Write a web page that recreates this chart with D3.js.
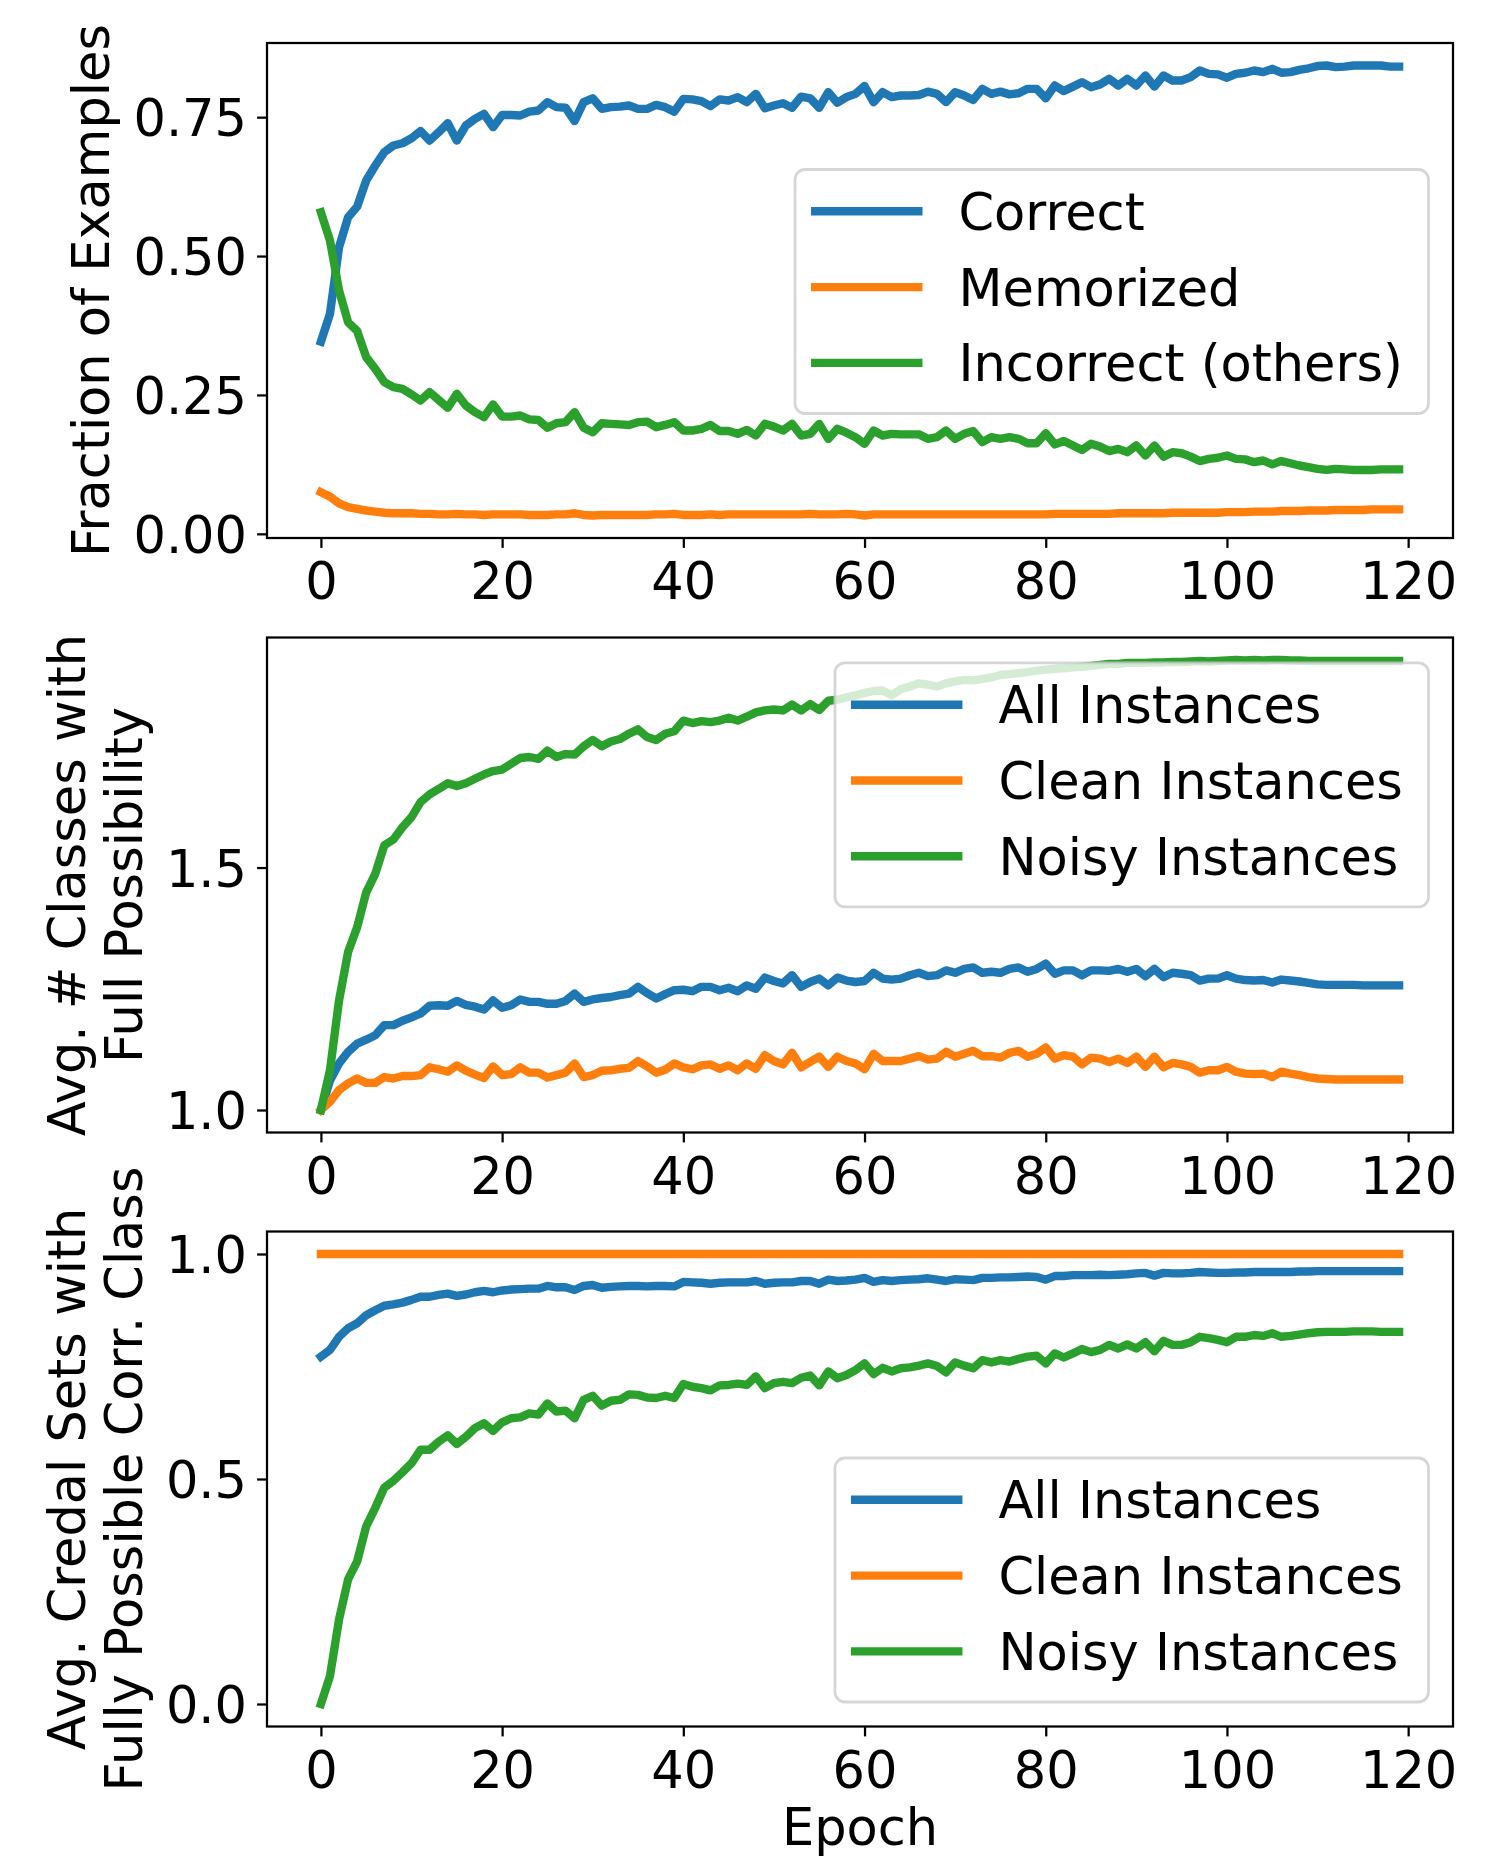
<!DOCTYPE html>
<html><head><meta charset="utf-8">
<script src="https://cdn.jsdelivr.net/npm/d3@7/dist/d3.min.js"></script>
<style>
body{margin:0;background:#fff}
svg{display:block}
text{font-family:"DejaVu Sans",sans-serif;fill:#000}
</style>
</head><body>
<svg id="chart" width="1508" height="1858"></svg>
<script>
// ---------------- DATA ----------------
const epochs = d3.range(0, 120);
const xTicks = [0, 20, 40, 60, 80, 100, 120];

// Panel 1: Fraction of Examples
const correct = [
0.346,0.396,0.516,0.570,0.589,0.636,0.663,0.687,0.699,0.703,
0.712,0.725,0.708,0.723,0.739,0.708,0.735,0.747,0.756,0.732,
0.754,0.754,0.753,0.760,0.762,0.777,0.768,0.767,0.743,0.777,
0.784,0.765,0.768,0.769,0.771,0.765,0.765,0.772,0.768,0.760,
0.783,0.782,0.779,0.770,0.782,0.780,0.786,0.777,0.792,0.766,
0.771,0.775,0.767,0.787,0.784,0.767,0.795,0.776,0.786,0.792,
0.806,0.777,0.795,0.786,0.789,0.789,0.790,0.796,0.792,0.777,
0.795,0.789,0.781,0.801,0.792,0.796,0.791,0.793,0.801,0.801,
0.784,0.807,0.797,0.805,0.813,0.804,0.809,0.819,0.807,0.819,
0.807,0.825,0.805,0.825,0.816,0.816,0.822,0.834,0.828,0.827,
0.821,0.828,0.830,0.834,0.831,0.837,0.830,0.831,0.835,0.838,
0.842,0.843,0.840,0.841,0.843,0.843,0.843,0.843,0.841,0.841];
const memorized = [
0.075,0.067,0.055,0.048,0.045,0.042,0.040,0.038,0.037,0.037,
0.037,0.036,0.036,0.035,0.035,0.036,0.035,0.035,0.034,0.035,
0.035,0.035,0.035,0.034,0.034,0.034,0.035,0.035,0.037,0.034,
0.033,0.034,0.034,0.034,0.034,0.034,0.034,0.035,0.035,0.036,
0.034,0.034,0.034,0.035,0.034,0.035,0.035,0.035,0.035,0.035,
0.035,0.035,0.035,0.035,0.036,0.035,0.035,0.035,0.036,0.035,
0.033,0.035,0.035,0.035,0.035,0.035,0.035,0.035,0.035,0.035,
0.035,0.035,0.035,0.035,0.035,0.035,0.035,0.035,0.035,0.035,
0.035,0.036,0.036,0.036,0.036,0.036,0.036,0.036,0.037,0.037,
0.037,0.037,0.037,0.037,0.038,0.038,0.038,0.038,0.038,0.038,
0.039,0.039,0.039,0.040,0.040,0.040,0.041,0.041,0.041,0.042,
0.042,0.042,0.043,0.043,0.043,0.043,0.044,0.044,0.044,0.044];
const incorrect = [
0.579,0.528,0.438,0.381,0.365,0.318,0.297,0.273,0.264,0.261,
0.251,0.240,0.255,0.241,0.227,0.252,0.231,0.219,0.210,0.233,
0.211,0.211,0.213,0.206,0.205,0.191,0.199,0.201,0.219,0.191,
0.183,0.199,0.198,0.197,0.196,0.201,0.202,0.192,0.196,0.201,
0.186,0.186,0.189,0.196,0.185,0.185,0.180,0.187,0.177,0.198,
0.193,0.186,0.198,0.177,0.180,0.198,0.171,0.189,0.182,0.174,
0.162,0.186,0.177,0.180,0.179,0.179,0.179,0.171,0.174,0.186,
0.171,0.180,0.185,0.165,0.174,0.171,0.174,0.171,0.163,0.163,
0.181,0.161,0.167,0.159,0.151,0.162,0.157,0.149,0.153,0.147,
0.159,0.141,0.159,0.139,0.147,0.145,0.139,0.131,0.135,0.137,
0.141,0.135,0.134,0.129,0.132,0.125,0.131,0.127,0.123,0.120,
0.117,0.115,0.117,0.116,0.115,0.115,0.115,0.116,0.116,0.116];

// Panel 2: Avg. # classes with full possibility
const fullPossAll = [
1.000,1.061,1.096,1.120,1.137,1.145,1.154,1.175,1.175,1.184,
1.191,1.199,1.215,1.216,1.215,1.225,1.217,1.213,1.207,1.226,
1.211,1.216,1.228,1.223,1.223,1.219,1.219,1.225,1.240,1.223,
1.228,1.231,1.233,1.237,1.240,1.254,1.241,1.230,1.239,1.247,
1.248,1.245,1.254,1.254,1.247,1.252,1.245,1.257,1.250,1.273,
1.266,1.261,1.278,1.254,1.264,1.271,1.257,1.273,1.267,1.264,
1.266,1.283,1.271,1.269,1.271,1.278,1.283,1.276,1.278,1.288,
1.283,1.291,1.294,1.283,1.285,1.283,1.291,1.294,1.285,1.291,
1.302,1.281,1.288,1.288,1.278,1.288,1.288,1.287,1.291,1.285,
1.291,1.276,1.291,1.274,1.283,1.281,1.278,1.267,1.271,1.271,
1.278,1.271,1.268,1.267,1.268,1.263,1.269,1.267,1.265,1.262,
1.259,1.258,1.258,1.258,1.258,1.257,1.257,1.257,1.257,1.257];
const fullPossClean = [
1.000,1.017,1.041,1.055,1.065,1.056,1.056,1.068,1.065,1.070,
1.070,1.072,1.088,1.084,1.079,1.092,1.081,1.073,1.066,1.090,
1.072,1.074,1.088,1.077,1.077,1.067,1.072,1.077,1.096,1.068,
1.072,1.081,1.082,1.085,1.087,1.101,1.090,1.077,1.083,1.096,
1.088,1.084,1.092,1.094,1.085,1.092,1.082,1.096,1.085,1.113,
1.101,1.094,1.118,1.088,1.099,1.110,1.089,1.110,1.101,1.096,
1.084,1.116,1.101,1.101,1.101,1.106,1.111,1.104,1.106,1.120,
1.110,1.116,1.122,1.111,1.111,1.108,1.118,1.122,1.110,1.116,
1.129,1.106,1.113,1.110,1.094,1.108,1.106,1.099,1.106,1.097,
1.110,1.089,1.110,1.088,1.097,1.094,1.089,1.077,1.082,1.082,
1.089,1.079,1.075,1.074,1.075,1.068,1.079,1.075,1.072,1.068,
1.065,1.064,1.063,1.063,1.063,1.063,1.063,1.063,1.063,1.063];
const fullPossNoisy = [
1.000,1.082,1.226,1.326,1.377,1.449,1.487,1.546,1.558,1.583,
1.604,1.635,1.651,1.662,1.674,1.668,1.674,1.683,1.692,1.699,
1.702,1.714,1.726,1.728,1.724,1.741,1.728,1.734,1.733,1.750,
1.763,1.750,1.760,1.765,1.776,1.785,1.769,1.763,1.776,1.781,
1.803,1.798,1.802,1.800,1.803,1.809,1.803,1.811,1.820,1.824,
1.826,1.824,1.836,1.824,1.837,1.825,1.844,1.846,1.851,1.855,
1.860,1.864,1.865,1.855,1.868,1.873,1.880,1.877,1.873,1.880,
1.884,1.887,1.886,1.889,1.892,1.897,1.899,1.901,1.903,1.906,
1.908,1.910,1.911,1.913,1.914,1.916,1.918,1.920,1.920,1.922,
1.922,1.922,1.923,1.923,1.924,1.924,1.925,1.926,1.925,1.926,
1.927,1.928,1.927,1.928,1.927,1.928,1.928,1.927,1.927,1.926,
1.926,1.926,1.926,1.926,1.926,1.926,1.926,1.926,1.926,1.926];

// Panel 3: Avg. credal sets with fully possible correct class
const credalAll = [
0.772,0.787,0.816,0.835,0.846,0.864,0.875,0.885,0.888,0.892,
0.898,0.905,0.905,0.909,0.912,0.907,0.910,0.915,0.918,0.915,
0.919,0.921,0.922,0.923,0.923,0.929,0.926,0.926,0.920,0.929,
0.931,0.925,0.927,0.928,0.929,0.929,0.928,0.929,0.929,0.928,
0.938,0.937,0.936,0.934,0.936,0.937,0.937,0.937,0.940,0.934,
0.936,0.937,0.937,0.940,0.940,0.934,0.943,0.940,0.941,0.943,
0.947,0.938,0.942,0.940,0.942,0.943,0.944,0.946,0.943,0.940,
0.944,0.943,0.942,0.947,0.947,0.948,0.948,0.949,0.950,0.949,
0.943,0.951,0.951,0.953,0.953,0.953,0.954,0.953,0.954,0.955,
0.957,0.958,0.952,0.958,0.957,0.957,0.958,0.960,0.959,0.958,
0.958,0.959,0.959,0.960,0.960,0.960,0.960,0.960,0.961,0.961,
0.962,0.962,0.962,0.962,0.962,0.962,0.962,0.962,0.962,0.962];
const credalClean = [
1,1,1,1,1,1,1,1,1,1, 1,1,1,1,1,1,1,1,1,1,
1,1,1,1,1,1,1,1,1,1, 1,1,1,1,1,1,1,1,1,1,
1,1,1,1,1,1,1,1,1,1, 1,1,1,1,1,1,1,1,1,1,
1,1,1,1,1,1,1,1,1,1, 1,1,1,1,1,1,1,1,1,1,
1,1,1,1,1,1,1,1,1,1, 1,1,1,1,1,1,1,1,1,1,
1,1,1,1,1,1,1,1,1,1, 1,1,1,1,1,1,1,1,1,1];
const credalNoisy = [
0.000,0.062,0.188,0.277,0.317,0.395,0.436,0.481,0.496,0.515,
0.535,0.565,0.565,0.583,0.597,0.578,0.594,0.613,0.624,0.607,
0.626,0.635,0.637,0.646,0.643,0.668,0.650,0.652,0.635,0.676,
0.685,0.663,0.674,0.676,0.688,0.687,0.681,0.680,0.685,0.680,
0.711,0.705,0.702,0.697,0.708,0.709,0.712,0.709,0.728,0.702,
0.713,0.716,0.713,0.725,0.730,0.708,0.739,0.724,0.731,0.742,
0.757,0.733,0.747,0.739,0.746,0.748,0.752,0.757,0.751,0.737,
0.759,0.752,0.746,0.764,0.759,0.764,0.761,0.767,0.772,0.774,
0.757,0.779,0.770,0.779,0.789,0.782,0.787,0.798,0.790,0.799,
0.790,0.804,0.784,0.807,0.798,0.798,0.804,0.816,0.813,0.809,
0.804,0.816,0.816,0.820,0.818,0.824,0.816,0.818,0.821,0.824,
0.826,0.827,0.827,0.827,0.828,0.828,0.828,0.827,0.827,0.827];

const seriesColors = ["#1f77b4", "#ff7f0e", "#2ca02c"];
const legend1 = ["Correct", "Memorized", "Incorrect (others)"];
const legend23 = ["All Instances", "Clean Instances", "Noisy Instances"];
const yTicks1 = [0.00, 0.25, 0.50, 0.75];
const yTicks2 = [1.0, 1.5];
const yTicks3 = [0.0, 0.5, 1.0];
const yLabel1 = ["Fraction of Examples"];
const yLabel2 = ["Avg. # Classes with", "Full Possibility"];
const yLabel3 = ["Avg. Credal Sets with", "Fully Possible Corr. Class"];
const xLabel = "Epoch";

// ---------------- LAYOUT ----------------
const FS = 51;
const LW = 8.4;
const SPINE = 2.25;
const TICK = 9.9;
const axL = 267, axR = 1453, axH = 495;

const panels = [
  { top: 43,     series: [correct, memorized, incorrect], names: legend1, yTicks: yTicks1, fmt: d3.format(".2f"), ylabel: yLabel1, legendLoc: "center" },
  { top: 637.5,  series: [fullPossAll, fullPossClean, fullPossNoisy], names: legend23, yTicks: yTicks2, fmt: d3.format(".1f"), ylabel: yLabel2, legendLoc: "upper" },
  { top: 1231.5, series: [credalAll, credalClean, credalNoisy], names: legend23, yTicks: yTicks3, fmt: d3.format(".1f"), ylabel: yLabel3, legendLoc: "lower" }
];

const svg = d3.select("#chart");
svg.append("rect").attr("width", 1508).attr("height", 1858).attr("fill", "#fff");

const x = d3.scaleLinear().domain([-5.95, 124.95]).range([axL, axR]);

panels.forEach((p, pi) => {
  const bottom = p.top + axH;
  const all = p.series.flat();
  const mn = d3.min(all), mx = d3.max(all), r = mx - mn;
  const y = d3.scaleLinear().domain([mn - 0.05 * r, mx + 0.05 * r]).range([bottom, p.top]);

  const g = svg.append("g");
  const clipId = "clip" + pi;
  svg.append("defs").append("clipPath").attr("id", clipId)
    .append("rect").attr("x", axL).attr("y", p.top).attr("width", axR - axL).attr("height", axH);

  // lines
  const line = d3.line().x((d, i) => x(epochs[i])).y(d => y(d));
  const lg = g.append("g").attr("clip-path", `url(#${clipId})`);
  p.series.forEach((s, si) => {
    lg.append("path").datum(s).attr("d", line)
      .attr("fill", "none").attr("stroke", seriesColors[si])
      .attr("stroke-width", LW).attr("stroke-linejoin", "round").attr("stroke-linecap", "square");
  });

  // frame
  g.append("rect").attr("x", axL).attr("y", p.top).attr("width", axR - axL).attr("height", axH)
    .attr("fill", "none").attr("stroke", "#000").attr("stroke-width", SPINE);

  // x axis
  const xa = g.append("g").attr("transform", `translate(0,${bottom})`)
    .call(d3.axisBottom(x).tickValues(xTicks).tickSize(TICK).tickSizeOuter(0).tickPadding(14.9).tickFormat(d3.format("d")));
  xa.select(".domain").remove();
  xa.selectAll(".tick line").attr("stroke", "#000").attr("stroke-width", SPINE);
  xa.selectAll(".tick text").attr("font-size", FS).attr("font-family", "DejaVu Sans").attr("fill", "#000");

  // y axis
  const ya = g.append("g").attr("transform", `translate(${axL},0)`)
    .call(d3.axisLeft(y).tickValues(p.yTicks).tickSize(TICK).tickSizeOuter(0).tickPadding(10.1).tickFormat(p.fmt));
  ya.select(".domain").remove();
  ya.selectAll(".tick line").attr("stroke", "#000").attr("stroke-width", SPINE);
  ya.selectAll(".tick text").attr("font-size", FS).attr("font-family", "DejaVu Sans").attr("fill", "#000").attr("dy", "0.365em");

  // y label
  const cy = p.top + axH / 2;
  const baseX = p.ylabel.length === 1 ? [109] : [85, 141.5];
  p.ylabel.forEach((t, li) => {
    g.append("text").attr("transform", `translate(${baseX[li]},${cy}) rotate(-90)`)
      .attr("text-anchor", "middle").attr("font-size", FS).text(t);
  });

  // legend
  const leg = g.append("g");
  const texts = p.names.map((n) => leg.append("text").attr("font-size", FS).text(n));
  const maxLen = d3.max(texts, t => t.node().getComputedTextLength());
  const boxR = axR - 24.5;
  const textX = boxR - 25.6 - maxLen;
  const hEnd = textX - 36;
  const hStart = hEnd - 111.5;
  const boxL = hStart - 16;
  const boxH = 244;
  let boxT;
  if (p.legendLoc === "upper") boxT = p.top + 25.4;
  else if (p.legendLoc === "lower") boxT = bottom - 24.5 - boxH;
  else boxT = cy - boxH / 2 + 1;
  leg.insert("rect", ":first-child").attr("x", boxL).attr("y", boxT).attr("width", boxR - boxL).attr("height", boxH)
    .attr("rx", 10).attr("ry", 10)
    .attr("fill", "#fff").attr("fill-opacity", 0.8)
    .attr("stroke", "#cccccc").attr("stroke-opacity", 0.8).attr("stroke-width", 2.8);
  p.names.forEach((n, i) => {
    const ry = boxT + 41.8 + 75.8 * i;
    leg.append("line").attr("x1", hStart).attr("x2", hEnd).attr("y1", ry).attr("y2", ry)
      .attr("stroke", seriesColors[i]).attr("stroke-width", LW);
    texts[i].attr("x", textX).attr("y", ry + 18.5);
    texts[i].raise();
  });
});

// x label
svg.append("text").attr("x", (axL + axR) / 2).attr("y", 1845).attr("text-anchor", "middle")
  .attr("font-size", FS).text(xLabel);
</script>
</body></html>
